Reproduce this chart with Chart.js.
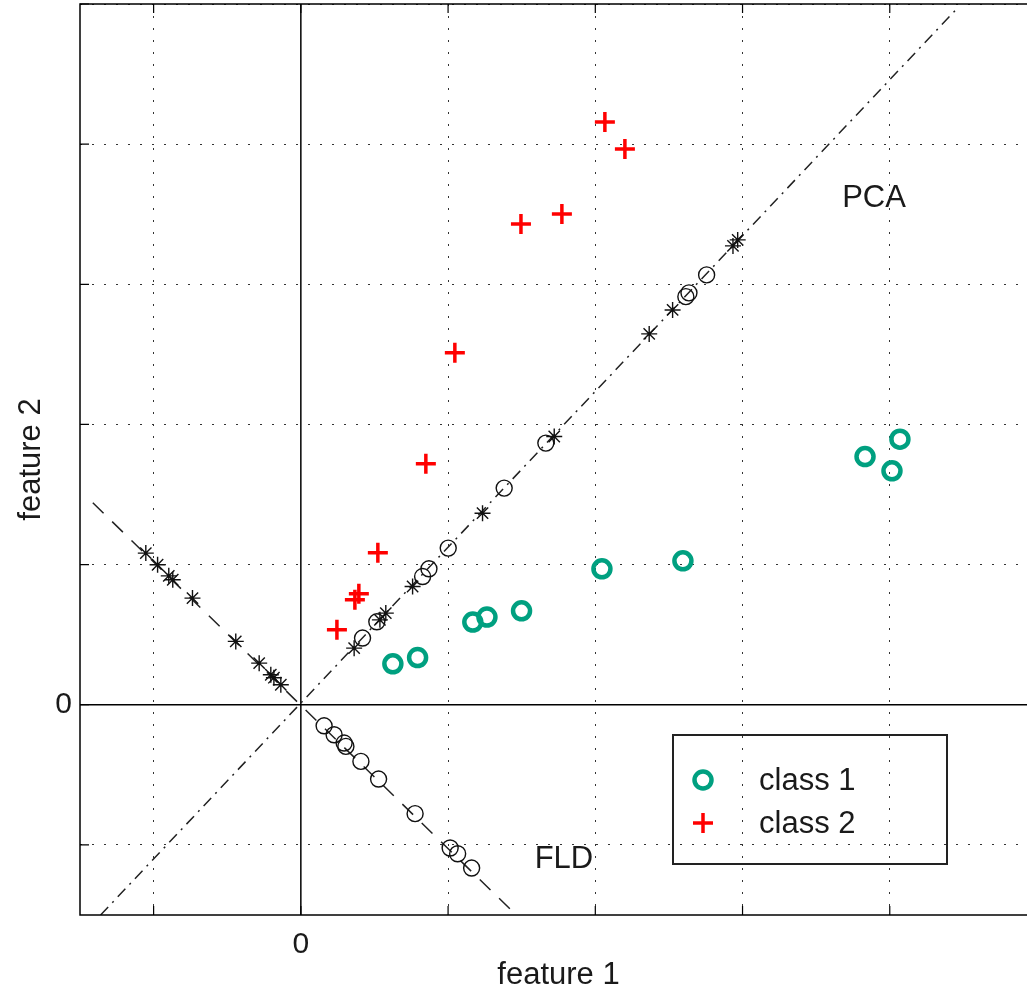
<!DOCTYPE html>
<html>
<head>
<meta charset="utf-8">
<script src="https://cdn.jsdelivr.net/npm/chart.js@4.4.0/dist/chart.umd.min.js"></script>
<style>
  html, body { margin: 0; padding: 0; overflow: hidden; background: #fff; }
</style>
</head>
<body>
<canvas id="chart" width="1040" height="994"></canvas>
<script>
// axis ranges (data units)
const xRange = [-1.5, 5];
const yRange = [-1.5, 5];

// original samples
const class1X = [0.625, 0.793, 1.168, 1.264, 1.499, 2.045, 2.595, 3.832, 4.069, 4.015];
const class1Y = [0.292, 0.337, 0.590, 0.626, 0.670, 0.970, 1.027, 1.771, 1.895, 1.669];
const class2X = [2.065, 2.201, 1.495, 1.773, 1.046, 0.849, 0.523, 0.394, 0.367, 0.245];
const class2Y = [4.158, 3.966, 3.431, 3.502, 2.511, 1.719, 1.084, 0.792, 0.749, 0.535];

// samples projected on the PCA direction
const pca1X = [0.419, 0.516, 0.827, 0.870, 1.001, 1.381, 1.664, 2.615, 2.756, 2.636];
const pca1Y = [0.476, 0.592, 0.915, 0.970, 1.118, 1.546, 1.867, 2.912, 3.067, 2.939];
const pca2X = [2.967, 2.935, 2.366, 2.525, 1.721, 1.234, 0.759, 0.577, 0.537, 0.362];
const pca2Y = [3.317, 3.274, 2.646, 2.817, 1.914, 1.367, 0.844, 0.654, 0.606, 0.404];

// samples projected on the FLD direction
const fld1X = [0.158, 0.226, 0.294, 0.306, 0.408, 0.528, 0.776, 1.014, 1.065, 1.160];
const fld1Y = [-0.150, -0.214, -0.273, -0.297, -0.404, -0.530, -0.777, -1.022, -1.063, -1.165];
const fld2X = [-1.053, -0.973, -0.897, -0.870, -0.736, -0.442, -0.283, -0.204, -0.183, -0.136];
const fld2Y = [1.082, 0.999, 0.920, 0.892, 0.761, 0.452, 0.297, 0.214, 0.193, 0.143];

// direction lines (end points)
const pcaLineX = [-1.36, 4.45];
const pcaLineY = [-1.50, 4.96];
const fldLineX = [-1.413, 1.461];
const fldLineY = [1.441, -1.498];

const tickLabels = ['0'];
const lineNames = ['PCA', 'FLD'];
const lineNameX = [3.893, 1.787];
const lineNameY = [3.610, -1.106];

const FONT = '"Liberation Sans", Arial, Helvetica, sans-serif';
const TEXT = '#1a1a1a';
const GREEN = '#00a080';
const RED = '#ff0000';

function pts(xs, ys) {
    return xs.map((x, i) => ({ x: x, y: ys[i] }));
}

const extras = {
    id: 'extras',
    afterDraw(chart) {
        const ctx = chart.ctx;
        const a = chart.chartArea;
        const sx = chart.scales.x, sy = chart.scales.y;
        ctx.save();
        // frame
        ctx.strokeStyle = '#000';
        ctx.lineWidth = 1.5;
        ctx.strokeRect(a.left, a.top, a.right - a.left, a.bottom - a.top);

        // inward tick marks on the frame
        ctx.lineWidth = 1.2;
        ctx.beginPath();
        sx.ticks.forEach(t => {
            const px = sx.getPixelForValue(t.value);
            ctx.moveTo(px, a.bottom); ctx.lineTo(px, a.bottom - 9);
            ctx.moveTo(px, a.top); ctx.lineTo(px, a.top + 9);
        });
        sy.ticks.forEach(t => {
            const py = sy.getPixelForValue(t.value);
            ctx.moveTo(a.left, py); ctx.lineTo(a.left + 9, py);
            ctx.moveTo(a.right, py); ctx.lineTo(a.right - 9, py);
        });
        ctx.stroke();

        // PCA / FLD names
        ctx.font = '31px ' + FONT;
        ctx.fillStyle = TEXT;
        ctx.textAlign = 'center';
        ctx.textBaseline = 'middle';
        lineNames.forEach((t, i) => {
            ctx.fillText(t, sx.getPixelForValue(lineNameX[i]), sy.getPixelForValue(lineNameY[i]));
        });

        // legend box
        const w = 274, h = 129;
        const left = a.right - 90 - w;
        const top = a.bottom - 51 - h;
        ctx.strokeStyle = '#222';
        ctx.lineWidth = 2;
        ctx.strokeRect(left, top, w, h);
        [0, 1].forEach((di, row) => {
            const ds = chart.data.datasets[di];
            const cy = top + 45 + row * 43;
            ctx.strokeStyle = ds.borderColor;
            ctx.fillStyle = ds.backgroundColor;
            ctx.lineWidth = ds.borderWidth;
            Chart.helpers.drawPoint(ctx, {
                pointStyle: ds.pointStyle, radius: ds.pointRadius,
                borderWidth: ds.borderWidth, rotation: 0
            }, left + 30, cy);
            ctx.fillStyle = TEXT;
            ctx.textAlign = 'left';
            ctx.fillText(ds.label, left + 86, cy + 1);
        });
        ctx.restore();
    }
};

const gridColor = c => (c.tick && c.tick.value === 0) ? 'rgba(0,0,0,0)' : '#333';

function noPad(s) {
    s.paddingTop = 0;
    s.paddingBottom = 0;
    s.paddingLeft = 0;
    s.paddingRight = 0;
}

new Chart(document.getElementById('chart'), {
    type: 'scatter',
    data: {
        datasets: [
            { label: 'class 1', data: pts(class1X, class1Y), pointStyle: 'circle',
              pointRadius: 8.5, borderWidth: 4.5, borderColor: GREEN, backgroundColor: 'rgba(0,0,0,0)' },
            { label: 'class 2', data: pts(class2X, class2Y), pointStyle: 'cross',
              pointRadius: 10, borderWidth: 3.5, borderColor: RED, backgroundColor: RED },
            { label: 'pca 1', data: pts(pca1X, pca1Y), pointStyle: 'circle',
              pointRadius: 8, borderWidth: 1.4, borderColor: '#111', backgroundColor: 'rgba(0,0,0,0)' },
            { label: 'pca 2', data: pts(pca2X, pca2Y), pointStyle: 'star',
              pointRadius: 8, borderWidth: 1.4, borderColor: '#111', backgroundColor: 'rgba(0,0,0,0)' },
            { label: 'fld 1', data: pts(fld1X, fld1Y), pointStyle: 'circle',
              pointRadius: 8, borderWidth: 1.4, borderColor: '#111', backgroundColor: 'rgba(0,0,0,0)' },
            { label: 'fld 2', data: pts(fld2X, fld2Y), pointStyle: 'star',
              pointRadius: 8, borderWidth: 1.4, borderColor: '#111', backgroundColor: 'rgba(0,0,0,0)' },
            { label: 'PCA', data: pts(pcaLineX, pcaLineY), showLine: true, pointRadius: 0,
              borderColor: '#222', borderWidth: 1.5, borderDash: [11, 6, 2, 6] },
            { label: 'FLD', data: pts(fldLineX, fldLineY), showLine: true, pointRadius: 0,
              borderColor: '#222', borderWidth: 1.5, borderDash: [15, 12] },
            { label: 'x0', data: pts(xRange, [0, 0]), showLine: true, pointRadius: 0,
              borderColor: '#000', borderWidth: 1.5 },
            { label: 'y0', data: pts([0, 0], yRange), showLine: true, pointRadius: 0,
              borderColor: '#000', borderWidth: 1.5 }
        ]
    },
    options: {
        responsive: false,
        animation: false,
        layout: { autoPadding: false, padding: { top: 4, right: 3, left: 0, bottom: 0 } },
        plugins: { legend: { display: false }, tooltip: { enabled: false } },
        scales: {
            x: {
                type: 'linear', min: xRange[0], max: xRange[1],
                afterFit: s => { s.height = 79; noPad(s); },
                grid: { color: gridColor, lineWidth: 1, drawTicks: false },
                border: { display: false, dash: [2, 10] },
                ticks: {
                    stepSize: 1, includeBounds: false, padding: 12, maxRotation: 0, autoSkip: false,
                    color: TEXT, font: { size: 30, family: FONT },
                    callback: v => (v === 0 ? tickLabels[0] : '')
                },
                title: { display: true, text: 'feature 1', color: TEXT,
                         font: { size: 31, family: FONT }, padding: { top: 0, bottom: 0 } }
            },
            y: {
                type: 'linear', min: yRange[0], max: yRange[1],
                afterFit: s => { s.width = 80; noPad(s); },
                grid: { color: gridColor, lineWidth: 1, drawTicks: false },
                border: { display: false, dash: [2, 10] },
                ticks: {
                    stepSize: 1, includeBounds: false, padding: 8, autoSkip: false,
                    color: TEXT, font: { size: 30, family: FONT },
                    callback: v => (v === 0 ? tickLabels[0] : '')
                },
                title: { display: true, text: 'feature 2', color: TEXT,
                         font: { size: 31, family: FONT }, padding: { top: 13, bottom: 0 } }
            }
        }
    },
    plugins: [extras]
});
</script>
</body>
</html>
